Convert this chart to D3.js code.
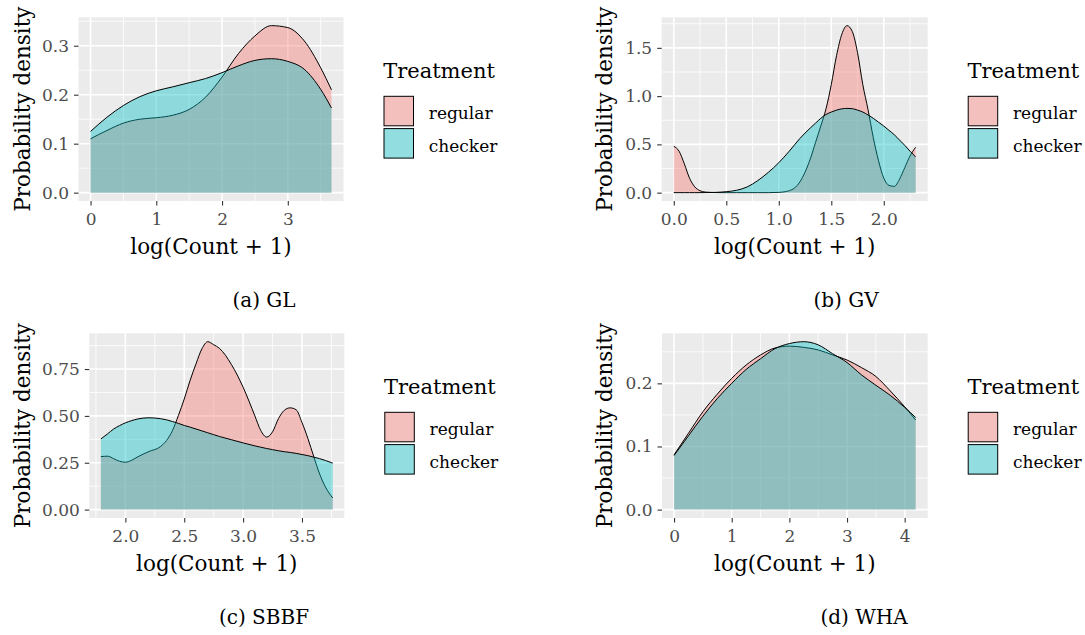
<!DOCTYPE html>
<html><head><meta charset="utf-8">
<script src="https://cdn.jsdelivr.net/npm/d3@7"></script>
<style>
body{margin:0;background:#fff}
svg{display:block}
text{font-family:"DejaVu Serif",serif}
</style>
</head><body>
<svg id="chart" width="1085" height="635"></svg>
<script>
// ---------- data ----------
const seriesNames = ["regular", "checker"];
const seriesColors = ["#F8766D", "#00BFC4"];
const legendTitle = "Treatment";
const xTitle = "log(Count + 1)";
const yTitle = "Probability density";
const captions = ["(a) GL", "(b) GV", "(c) SBBF", "(d) WHA"];

// (a) GL
const glX       = [0, 0.25, 0.5, 0.75, 1.0, 1.25, 1.5, 1.75, 2.0, 2.25, 2.5, 2.75, 3.0, 3.25, 3.5, 3.664];
const glRegular = [0.110, 0.127, 0.142, 0.150, 0.153, 0.158, 0.170, 0.195, 0.236, 0.284, 0.320, 0.341, 0.337, 0.310, 0.255, 0.210];
const glChecker = [0.125, 0.154, 0.178, 0.196, 0.208, 0.216, 0.2245, 0.233, 0.245, 0.259, 0.270, 0.2735, 0.268, 0.252, 0.211, 0.173];
const glXTicks = [0, 1, 2, 3];
const glYTicks = [0, 0.1, 0.2, 0.3];

// (b) GV
const gvX       = [0, 0.05, 0.1, 0.15, 0.2, 0.25, 0.3, 0.4, 0.5, 0.6, 0.7, 0.8, 0.9, 1.0, 1.1, 1.2, 1.3, 1.35, 1.4, 1.45, 1.5, 1.55, 1.6, 1.65, 1.7, 1.75, 1.8, 1.85, 1.9, 1.95, 2.0, 2.05, 2.1, 2.15, 2.2, 2.25, 2.303];
const gvRegular = [0.48, 0.43, 0.30, 0.15, 0.06, 0.02, 0.006, 0.001, 0, 0, 0, 0, 0, 0.003, 0.02, 0.11, 0.35, 0.52, 0.69, 0.87, 1.12, 1.42, 1.64, 1.73, 1.67, 1.45, 1.12, 0.86, 0.57, 0.33, 0.15, 0.075, 0.065, 0.14, 0.26, 0.38, 0.47];
const gvChecker = [0, 0, 0, 0, 0, 0, 0.001, 0.003, 0.01, 0.025, 0.06, 0.125, 0.21, 0.31, 0.43, 0.56, 0.67, 0.72, 0.77, 0.81, 0.835, 0.855, 0.868, 0.873, 0.87, 0.855, 0.835, 0.805, 0.77, 0.73, 0.69, 0.645, 0.60, 0.545, 0.49, 0.43, 0.37];
const gvXTicks = [0, 0.5, 1.0, 1.5, 2.0];
const gvYTicks = [0, 0.5, 1.0, 1.5];

// (c) SBBF
const sbX       = [1.792, 1.85, 1.9, 1.95, 2.0, 2.05, 2.1, 2.2, 2.3, 2.35, 2.4, 2.45, 2.5, 2.55, 2.6, 2.65, 2.7, 2.75, 2.8, 2.9, 3.0, 3.1, 3.15, 3.2, 3.25, 3.3, 3.35, 3.4, 3.45, 3.5, 3.55, 3.6, 3.65, 3.7, 3.761];
const sbRegular = [0.283, 0.285, 0.272, 0.258, 0.253, 0.262, 0.280, 0.310, 0.337, 0.369, 0.422, 0.502, 0.590, 0.690, 0.778, 0.858, 0.896, 0.880, 0.860, 0.775, 0.653, 0.500, 0.422, 0.387, 0.415, 0.485, 0.530, 0.543, 0.533, 0.465, 0.380, 0.283, 0.190, 0.120, 0.062];
const sbChecker = [0.377, 0.405, 0.430, 0.448, 0.463, 0.474, 0.483, 0.490, 0.485, 0.479, 0.470, 0.460, 0.449, 0.440, 0.430, 0.420, 0.410, 0.400, 0.390, 0.373, 0.356, 0.340, 0.333, 0.326, 0.320, 0.314, 0.309, 0.305, 0.300, 0.294, 0.288, 0.280, 0.272, 0.262, 0.248];
const sbXTicks = [2.0, 2.5, 3.0, 3.5];
const sbYTicks = [0, 0.25, 0.5, 0.75];

// (d) WHA
const whX       = [0, 0.25, 0.5, 0.75, 1.0, 1.25, 1.5, 1.75, 2.0, 2.25, 2.5, 2.75, 3.0, 3.25, 3.5, 3.75, 4.0, 4.19];
const whRegular = [0.0868, 0.121, 0.155, 0.183, 0.208, 0.229, 0.245, 0.256, 0.259, 0.257, 0.253, 0.245, 0.237, 0.225, 0.211, 0.188, 0.163, 0.142];
const whChecker = [0.0857, 0.117, 0.148, 0.176, 0.200, 0.222, 0.239, 0.255, 0.263, 0.266, 0.261, 0.247, 0.233, 0.2135, 0.197, 0.181, 0.162, 0.146];
const whXTicks = [0, 1, 2, 3, 4];
const whYTicks = [0, 0.1, 0.2];

// ---------- layout ----------
const panels = [
  {x: glX, ys: [glRegular, glChecker], xt: glXTicks, yt: glYTicks, xf: d3.format("d"),   yf: d3.format(".1f"),
   left: 78.5, right: 343.5, top: 17.3, bottom: 201, yTitleX: 30, cap: captions[0], capX: 264, capY: 307.3},
  {x: gvX, ys: [gvRegular, gvChecker], xt: gvXTicks, yt: gvYTicks, xf: d3.format(".1f"), yf: d3.format(".1f"),
   left: 661.7, right: 927.7, top: 17.3, bottom: 201, yTitleX: 611.5, cap: captions[1], capX: 846, capY: 307.3},
  {x: sbX, ys: [sbRegular, sbChecker], xt: sbXTicks, yt: sbYTicks, xf: d3.format(".1f"), yf: d3.format(".2f"),
   left: 89.3, right: 344.3, top: 333.3, bottom: 518, yTitleX: 30, cap: captions[2], capX: 264, capY: 623.5},
  {x: whX, ys: [whRegular, whChecker], xt: whXTicks, yt: whYTicks, xf: d3.format("d"),   yf: d3.format(".1f"),
   left: 662, right: 927.7, top: 333.3, bottom: 518, yTitleX: 611.5, cap: captions[3], capX: 864, capY: 623.5}
];

const svg = d3.select("#chart");

function minorBreaks(ticks, dom) {
  const step = ticks[1] - ticks[0];
  const out = [];
  for (let i = -1; i < ticks.length; i++) {
    const v = ticks[0] + (i + 0.5) * step;
    if (v >= dom[0] && v <= dom[1]) out.push(v);
  }
  return out;
}

panels.forEach(p => {
  const xmin = d3.min(p.x), xmax = d3.max(p.x), xr = xmax - xmin;
  const ymax = d3.max(p.ys.flat());
  const xDom = [xmin - 0.05 * xr, xmax + 0.05 * xr];
  const yDom = [-0.05 * ymax, 1.05 * ymax];
  const x = d3.scaleLinear().domain(xDom).range([p.left, p.right]);
  const y = d3.scaleLinear().domain(yDom).range([p.bottom, p.top]);
  const g = svg.append("g");

  g.append("rect").attr("x", p.left).attr("y", p.top)
    .attr("width", p.right - p.left).attr("height", p.bottom - p.top).attr("fill", "#EBEBEB");

  // grid
  const gx = g.append("g"), gy = g.append("g");
  minorBreaks(p.xt, xDom).forEach(v => gx.append("line").attr("x1", x(v)).attr("x2", x(v))
    .attr("y1", p.top).attr("y2", p.bottom).attr("stroke", "#fff").attr("stroke-width", 0.8));
  minorBreaks(p.yt, yDom).forEach(v => gy.append("line").attr("y1", y(v)).attr("y2", y(v))
    .attr("x1", p.left).attr("x2", p.right).attr("stroke", "#fff").attr("stroke-width", 0.8));
  p.xt.forEach(v => gx.append("line").attr("x1", x(v)).attr("x2", x(v))
    .attr("y1", p.top).attr("y2", p.bottom).attr("stroke", "#fff").attr("stroke-width", 1.6));
  p.yt.forEach(v => gy.append("line").attr("y1", y(v)).attr("y2", y(v))
    .attr("x1", p.left).attr("x2", p.right).attr("stroke", "#fff").attr("stroke-width", 1.6));

  // densities
  p.ys.forEach((ys, si) => {
    const pts = p.x.map((xv, i) => [xv, ys[i]]);
    const area = d3.area().x(d => x(d[0])).y0(y(0)).y1(d => y(d[1])).curve(d3.curveMonotoneX);
    const line = d3.line().x(d => x(d[0])).y(d => y(d[1])).curve(d3.curveMonotoneX);
    g.append("path").attr("d", area(pts)).attr("fill", seriesColors[si]).attr("fill-opacity", 0.4);
    g.append("path").attr("d", line(pts)).attr("fill", "none").attr("stroke", "#000").attr("stroke-width", 1);
  });

  // axes
  const xAxis = g.append("g").attr("transform", `translate(0,${p.bottom})`)
    .call(d3.axisBottom(x).tickValues(p.xt).tickFormat(p.xf).tickSize(4.5).tickPadding(7));
  const yAxis = g.append("g").attr("transform", `translate(${p.left},0)`)
    .call(d3.axisLeft(y).tickValues(p.yt).tickFormat(p.yf).tickSize(4.5).tickPadding(5));
  [xAxis, yAxis].forEach(a => {
    a.select(".domain").remove();
    a.selectAll(".tick line").attr("stroke", "#333").attr("stroke-width", 1.1);
    a.selectAll(".tick text").attr("fill", "#4D4D4D").style("font-family", '"DejaVu Serif",serif').style("font-size", "17px");
  });

  // titles
  g.append("text").attr("x", (p.left + p.right) / 2).attr("y", p.bottom + 53)
    .attr("text-anchor", "middle").style("font-size", "21.5px").attr("fill", "#000").text(xTitle);
  g.append("text").attr("transform", `translate(${p.yTitleX},${(p.top + p.bottom) / 2}) rotate(-90)`)
    .attr("text-anchor", "middle").style("font-size", "21.5px").attr("fill", "#000").text(yTitle);

  // legend
  const lg = g.append("g").attr("transform", `translate(${p.right},${p.top})`);
  lg.append("text").attr("x", 39.7).attr("y", 61).style("font-size", "21px").text(legendTitle);
  seriesNames.forEach((nm, si) => {
    const ky = 79 + si * 32.3;
    lg.append("rect").attr("x", 40.5).attr("y", ky).attr("width", 29.5).attr("height", 29.5).attr("fill", "#F2F2F2");
    lg.append("rect").attr("x", 40.5).attr("y", ky).attr("width", 29.5).attr("height", 29.5)
      .attr("fill", seriesColors[si]).attr("fill-opacity", 0.4).attr("stroke", "#000").attr("stroke-width", 1);
    lg.append("text").attr("x", 85.3).attr("y", 102 + si * 32.4).style("font-size", "17px").text(nm);
  });

  // caption
  g.append("text").attr("x", p.capX).attr("y", p.capY).attr("text-anchor", "middle")
    .style("font-size", "20px").text(p.cap);
});
</script>
</body></html>
